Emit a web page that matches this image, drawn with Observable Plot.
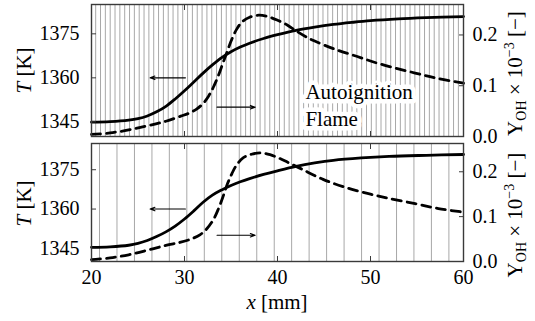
<!DOCTYPE html>
<html><head><meta charset="utf-8">
<script src="https://cdn.jsdelivr.net/npm/d3@7"></script>
<script src="https://cdn.jsdelivr.net/npm/@observablehq/plot@0.6"></script>
<style>
body{margin:0;background:#fff}
#c{position:relative;width:535px;height:321px;overflow:hidden}
#c svg{position:absolute;left:0}
#c svg, #c svg text, #c svg tspan{font-family:"Liberation Serif","DejaVu Serif","Noto Serif","Times New Roman",serif !important}
</style>
</head><body><div id="c"></div>
<script>
// ---- tick values ----
const xTicks = [20, 30, 40, 50, 60];
const tTicks = [1345, 1360, 1375];
const yohTicks = [0.0, 0.1, 0.2];

// ---- top panel (Autoignition / Flame) ----
const topTx = [20, 22, 24, 25, 26, 27, 28, 29, 30, 31, 32, 33, 34, 35, 36, 37, 38.5, 40, 42, 44, 46, 48, 50, 53, 56, 60];
const topTv = [1344.9, 1345.1, 1345.6, 1346.1, 1347.0, 1348.4, 1350.3, 1352.8, 1355.6, 1358.6, 1361.6, 1364.4, 1366.9, 1368.9, 1370.5, 1371.8, 1373.4, 1374.7, 1376.2, 1377.3, 1378.2, 1378.9, 1379.5, 1380.1, 1380.5, 1380.9];
const topYx = [20, 22, 24, 26, 28, 29.6, 30.5, 31.3, 32, 32.6, 33.1, 33.6, 34.1, 34.6, 35.1, 35.6, 36.2, 37, 38, 39, 40, 41, 42, 43, 44, 46, 48.5, 51, 54.8, 57.3, 60];
const topYv = [0.004, 0.007, 0.013, 0.021, 0.030, 0.040, 0.046, 0.054, 0.065, 0.080, 0.097, 0.118, 0.143, 0.168, 0.192, 0.211, 0.226, 0.235, 0.239, 0.236, 0.229, 0.220, 0.208, 0.197, 0.188, 0.173, 0.158, 0.143, 0.125, 0.114, 0.105];
const topGrid = [20.45, 20.97, 21.49, 22.01, 22.53, 23.05, 23.57, 24.09, 24.61, 25.13, 25.65, 26.17, 26.69, 27.21, 27.73, 28.25, 28.77, 29.29, 29.81, 30.33, 30.85, 31.37, 31.89, 32.41, 32.93, 33.45, 33.97, 34.49, 35.01, 35.53, 36.05, 36.57, 37.09, 37.61, 38.13, 38.65, 39.17, 39.69, 40.21, 40.73, 41.25, 41.77, 42.29, 42.81, 43.33, 43.85, 44.37, 44.89, 45.41, 45.93, 46.45, 46.97, 47.49, 48.01, 48.53, 49.05, 49.57, 50.09, 50.61, 51.13, 51.65, 52.17, 52.69, 53.21, 53.73, 54.25, 54.77, 55.29, 55.81, 56.33, 56.85, 57.37, 57.89, 58.41, 58.93, 59.45];
const topLabels = ["Autoignition", "Flame"];
const topLabelX = [43.0, 43.0];
const topLabelT = [1355.2, 1346.0];

// ---- bottom panel ----
const botTx = [20, 22, 24, 25, 26, 27, 28, 29, 30, 31, 32, 33, 34, 35, 36, 37, 38.5, 40, 42, 44, 46, 49, 52, 56, 60];
const botTv = [1345.4, 1345.6, 1346.2, 1346.9, 1348.0, 1349.5, 1351.3, 1353.5, 1356.2, 1359.3, 1362.6, 1365.3, 1367.3, 1369.0, 1370.4, 1371.6, 1373.2, 1374.6, 1376.3, 1377.6, 1378.6, 1379.5, 1380.1, 1380.5, 1380.8];
const botYx = [20, 22, 24, 26, 28, 29.6, 30.7, 31.7, 32.4, 33.1, 33.6, 34.1, 34.6, 35.1, 35.6, 36.3, 37.2, 38.2, 39.2, 40.2, 41.1, 42.5, 44.9, 47.5, 50, 51.9, 54.8, 57.3, 60];
const botYv = [0.004, 0.008, 0.015, 0.025, 0.036, 0.043, 0.050, 0.060, 0.073, 0.093, 0.115, 0.142, 0.172, 0.196, 0.215, 0.231, 0.239, 0.242, 0.238, 0.230, 0.221, 0.207, 0.183, 0.164, 0.150, 0.141, 0.129, 0.118, 0.110];
const botGrid = [20.86, 22.74, 24.62, 26.50, 28.37, 30.25, 32.13, 34.01, 35.89, 37.77, 39.65, 41.52, 43.40, 45.28, 47.16, 49.04, 50.92, 52.80, 54.67, 56.55, 58.43];

// ---- arrows (data coords: x in mm, T in K) ----
const arrowX1 = [30.1, 33.5];
const arrowX2 = [26.3, 37.6];
const arrowT = [1360, 1350];

const T0 = 1340, T1 = 1385;
const SERIF = "'Liberation Serif', 'DejaVu Serif', 'Noto Serif', serif";

function panel({Tx, Tv, Yx, Yv, grid, ymax, top, height, mt, mb, showX, labels, leftY, rightY}) {
  const conv = v => T0 + v / ymax * (T1 - T0);
  const T = Tx.map((x, i) => ({x, v: Tv[i]}));
  const Y = Yx.map((x, i) => ({x, v: Yv[i]}));
  const arrows = arrowX1.map((x1, i) => ({x1, x2: arrowX2[i], t: arrowT[i]}));
  const marks = [
    Plot.ruleX(grid, {stroke: "#a8a8a8", strokeWidth: 1}),
  ];
  if (labels) {
    marks.push(Plot.text(labels.map((s, i) => ({s, x: topLabelX[i], t: topLabelT[i]})), {
      x: "x", y: "t", text: "s", textAnchor: "start", fontSize: 21, fill: "black", fontFamily: SERIF,
      stroke: "white", strokeWidth: 9, strokeLinejoin: "round", paintOrder: "stroke"
    }));
  }
  marks.push(
    Plot.line(Y, {x: "x", y: d => conv(d.v), stroke: "black", strokeWidth: 2.8, strokeDasharray: "9,6", curve: "catmull-rom"}),
    Plot.line(T, {x: "x", y: "v", stroke: "black", strokeWidth: 2.8, curve: "catmull-rom"}),
    Plot.arrow(arrows, {x1: "x1", x2: "x2", y1: "t", y2: "t", stroke: "black", strokeWidth: 1.1, headLength: 7, headAngle: 40}),
    Plot.frame({stroke: "#3a3a3a", strokeWidth: 1.4}),
    Plot.axisY(tTicks, {anchor: "left", tickSize: -5, tickPadding: 17, stroke: "#3a3a3a", fontFamily: SERIF, tickFormat: d => String(d)}),
    Plot.axisY(yohTicks.map(conv), {anchor: "right", tickSize: -5, tickPadding: 14, stroke: "#3a3a3a", fontFamily: SERIF,
      tickFormat: d => ((d - T0) / (T1 - T0) * ymax).toFixed(1)}),
    Plot.axisX(xTicks, {anchor: "bottom", tickSize: -5, tickPadding: 13, stroke: "#3a3a3a", fontFamily: SERIF,
      tickFormat: showX ? (d => String(d)) : (() => "")}),
    Plot.axisX(xTicks, {anchor: "top", tickSize: -5, stroke: "#3a3a3a", tickFormat: () => ""})
  );
  const svg = Plot.plot({
    width: 535, height,
    marginTop: mt, marginBottom: mb, marginLeft: 91, marginRight: 72,
    x: {domain: [20, 60]},
    y: {domain: [T0, T1]},
    style: {"font-family": SERIF, "font-size": "20px", "background": "transparent", "color": "black", "overflow": "visible"},
    marks
  });
  svg.setAttribute("font-family", SERIF);
  svg.setAttribute("font-size", "20");
  svg.style.top = top + "px";
  const s = d3.select(svg);
  const tl = s.append("text").attr("transform", `translate(31,${leftY}) rotate(-90)`)
    .attr("text-anchor", "middle").attr("font-size", 21).attr("font-family", SERIF).attr("fill", "black");
  tl.append("tspan").attr("font-style", "italic").text("T");
  tl.append("tspan").text(" [K]");
  const tr = s.append("text").attr("transform", `translate(522,${rightY}) rotate(-90)`)
    .attr("text-anchor", "middle").attr("font-size", 21).attr("font-family", SERIF).attr("fill", "black");
  tr.append("tspan").text("Y");
  tr.append("tspan").attr("font-size", 14).attr("dy", 4).text("OH");
  tr.append("tspan").attr("dy", -4).text(" × 10");
  tr.append("tspan").attr("font-size", 14).attr("dy", -8).text("−3");
  tr.append("tspan").attr("dy", 8).text(" [−]");
  if (showX) {
    const xl = s.append("text").attr("x", 277).attr("y", 169)
      .attr("text-anchor", "middle").attr("font-size", 21).attr("font-family", SERIF).attr("fill", "black");
    xl.append("tspan").attr("font-style", "italic").text("x");
    xl.append("tspan").text(" [mm]");
  }
  return svg;
}

const c = document.getElementById("c");
c.appendChild(panel({Tx: topTx, Tv: topTv, Yx: topYx, Yv: topYv, grid: topGrid, ymax: 0.26,
  top: 0, height: 140, mt: 4, mb: 4, showX: false, labels: topLabels, leftY: 70.5, rightY: 73.5}));
c.appendChild(panel({Tx: botTx, Tv: botTv, Yx: botYx, Yv: botYv, grid: botGrid, ymax: 0.263,
  top: 140, height: 181, mt: 3, mb: 60, showX: true, labels: null, leftY: 63.5, rightY: 75}));
</script>
</body></html>
